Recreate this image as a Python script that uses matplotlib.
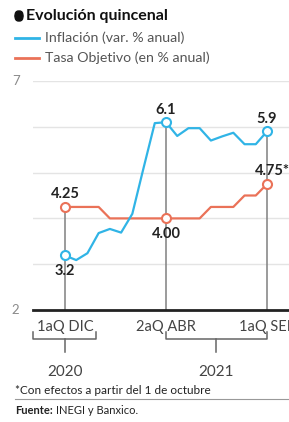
import matplotlib.pyplot as plt
import matplotlib.transforms as mtransforms
from matplotlib.patches import FancyBboxPatch

plt.rcParams["font.family"] = ["Lato", "DejaVu Sans"]

# quincenas from 1aQ DIC 2020 to 1aQ SEP 2021
periods = [
    "1aQ DIC", "2aQ DIC", "1aQ ENE", "2aQ ENE", "1aQ FEB", "2aQ FEB",
    "1aQ MAR", "2aQ MAR", "1aQ ABR", "2aQ ABR", "1aQ MAY", "2aQ MAY",
    "1aQ JUN", "2aQ JUN", "1aQ JUL", "2aQ JUL", "1aQ AGO", "2aQ AGO", "1aQ SEP",
]
inflacion = [3.19, 3.09, 3.24, 3.68, 3.77, 3.69, 4.1, 5.1, 6.08, 6.1,
             5.80, 5.97, 5.97, 5.70, 5.79, 5.87, 5.62, 5.62, 5.9]
tasa = [4.25, 4.25, 4.25, 4.25, 4.0, 4.0, 4.0, 4.0, 4.0, 4.0,
        4.0, 4.0, 4.0, 4.25, 4.25, 4.25, 4.5, 4.5, 4.75]
tick_idx = [0, 9, 18]
years = ["2020", "2021"]
year_spans = [(-2.85, 2.8), (9, 18)]
highlight = [0, 9, 18]
infl_labels = {0: "3.2", 9: "6.1", 18: "5.9"}
tasa_labels = {0: "4.25", 9: "4.00", 18: "4.75*"}

BLUE = "#30b4e6"
ORANGE = "#ea7258"
W, H = 289, 422


def fx(px):
    return px / W


def fy(py):
    return 1 - py / H


fig = plt.figure(figsize=(W / 100, H / 100), dpi=100)
ax = fig.add_axes([fx(33), fy(310), 1 - fx(33), fy(81) - fy(310)])
x = list(range(len(periods)))
ax.set_xlim(-2.85, 19.96)
ax.set_ylim(2, 7)
ax.axis("off")

for v in [3, 4, 5, 6, 7]:
    ax.axhline(v, color="#e4e4e4", lw=1, zorder=0)
ax.axhline(2, color="#222222", lw=2, zorder=3, clip_on=False)

# vertical reference lines
for i in highlight:
    top = max(inflacion[i], tasa[i])
    ax.plot([i, i], [2, top], color="#808080", lw=1.1, zorder=1)

ax.plot(x, tasa, color=ORANGE, lw=1.6, zorder=2, clip_on=False)
ax.plot(x, inflacion, color=BLUE, lw=1.6, zorder=2, clip_on=False)
ax.plot(highlight, [tasa[i] for i in highlight], "o", ms=6.5, mfc="white",
        mec=ORANGE, mew=1.5, zorder=4, clip_on=False)
ax.plot(highlight, [inflacion[i] for i in highlight], "o", ms=6.5, mfc="white",
        mec=BLUE, mew=1.5, zorder=4, clip_on=False)

lab = dict(fontsize=10.5, fontweight="bold", color="#222222", ha="center")
ax.annotate(infl_labels[0], (0, inflacion[0]), xytext=(0, -6),
            textcoords="offset points", va="top", **lab)
ax.annotate(infl_labels[9], (9, inflacion[9]), xytext=(0, 4),
            textcoords="offset points", va="bottom", **lab)
ax.annotate(infl_labels[18], (18, inflacion[18]), xytext=(0, 4),
            textcoords="offset points", va="bottom", **lab)
ax.annotate(tasa_labels[0], (0, tasa[0]), xytext=(0, 4),
            textcoords="offset points", va="bottom", **lab)
ax.annotate(tasa_labels[9], (9, tasa[9]), xytext=(0, -6),
            textcoords="offset points", va="top", **lab)
ax.annotate(tasa_labels[18], (18, tasa[18]), xytext=(4, 4),
            textcoords="offset points", va="bottom", **lab)

# y labels
for v in [7, 2]:
    ax.text(-4.4, v, str(v), fontsize=9.5, color="#8a8a8a", ha="center",
            va="center", clip_on=False)

# x labels and year brackets below the axis
trans = mtransforms.blended_transform_factory(ax.transData, fig.transFigure)
for i in tick_idx:
    ax.text(i, fy(327), periods[i], transform=trans, fontsize=10.5,
            color="#444444", ha="center", va="center", clip_on=False)
for (a, b), yr in zip(year_spans, years):
    kw = dict(color="#666666", lw=1.1, transform=trans, clip_on=False)
    ax.plot([a, a, b, b], [fy(332), fy(339), fy(339), fy(332)], **kw)
    c = (a + b) / 2
    ax.plot([c, c], [fy(339), fy(352)], **kw)
    ax.text(c, fy(372), yr, transform=trans, fontsize=11, color="#444444",
            ha="center", va="center", clip_on=False)

# title and legend
fig.patches.append(FancyBboxPatch((fx(15), fy(21)), fx(8), fy(11) - fy(21),
                                  boxstyle="round,pad=0,rounding_size=0.012",
                                  transform=fig.transFigure, color="#111111"))
fig.text(fx(26), fy(16), "Evolución quincenal", fontsize=11.5,
         fontweight="bold", color="#111111", va="center")
fig.add_artist(plt.Line2D([fx(15), fx(39)], [fy(38), fy(38)], color=BLUE,
                          lw=2, transform=fig.transFigure))
fig.add_artist(plt.Line2D([fx(15), fx(39)], [fy(58), fy(58)], color=ORANGE,
                          lw=2, transform=fig.transFigure))
fig.text(fx(45), fy(38), "Inflación (var. % anual)", fontsize=10.2,
         color="#555555", va="center")
fig.text(fx(45), fy(58), "Tasa Objetivo (en % anual)", fontsize=10.2,
         color="#555555", va="center")

# footnotes
fig.text(fx(15), fy(390), "*Con efectos a partir del 1 de octubre",
         fontsize=8.5, color="#222222", va="center")
fig.add_artist(plt.Line2D([fx(15), 1], [fy(399), fy(399)], color="#999999",
                          lw=0.8, transform=fig.transFigure))
src = fig.text(fx(15), fy(411), "Fuente:", fontsize=8, fontweight="bold",
               color="#222222", va="center")
fig.canvas.draw()
bb = src.get_window_extent().transformed(fig.transFigure.inverted())
fig.text(bb.x1 + fx(3), fy(411), "INEGI y Banxico.", fontsize=8,
         color="#222222", va="center")

fig.savefig("out.png", dpi=100)
